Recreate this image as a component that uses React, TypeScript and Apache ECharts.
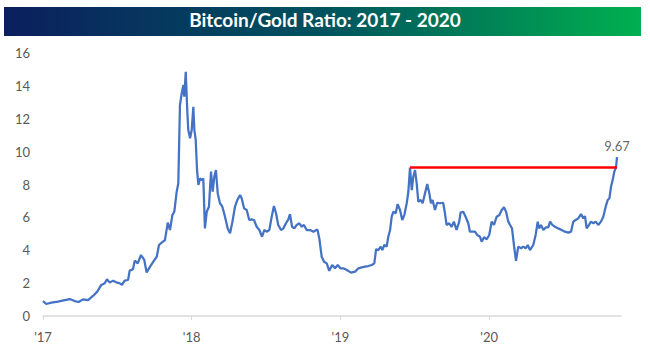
import React, { useEffect, useRef } from "react";
import * as echarts from "echarts";

const title = "Bitcoin/Gold Ratio: 2017 - 2020";
const yearTicks = [2017, 2018, 2019, 2020];
const xMin = 2017;
const xMax = 2020.887;

// decimal year of each reading
const dates = [
  2017.0, 2017.022, 2017.056, 2017.101, 2017.146, 2017.18, 2017.213, 2017.24, 2017.269, 2017.303,
  2017.336, 2017.365, 2017.392, 2017.415, 2017.43, 2017.449, 2017.471, 2017.493, 2017.516, 2017.531,
  2017.549, 2017.572, 2017.583, 2017.605, 2017.617, 2017.637, 2017.659, 2017.681, 2017.697, 2017.72,
  2017.742, 2017.765, 2017.78, 2017.798, 2017.82, 2017.839, 2017.854, 2017.87, 2017.883, 2017.899,
  2017.91, 2017.921, 2017.933, 2017.944, 2017.95, 2017.96, 2017.97, 2017.977, 2017.989, 2018.0,
  2018.011, 2018.018, 2018.027, 2018.036, 2018.045, 2018.056, 2018.068, 2018.078, 2018.089, 2018.101,
  2018.116, 2018.13, 2018.141, 2018.152, 2018.163, 2018.175, 2018.19, 2018.206, 2018.224, 2018.242,
  2018.258, 2018.274, 2018.291, 2018.307, 2018.325, 2018.336, 2018.352, 2018.37, 2018.387, 2018.404,
  2018.419, 2018.437, 2018.455, 2018.473, 2018.488, 2018.504, 2018.522, 2018.538, 2018.553, 2018.567,
  2018.582, 2018.601, 2018.616, 2018.634, 2018.65, 2018.661, 2018.675, 2018.69, 2018.706, 2018.724,
  2018.74, 2018.755, 2018.773, 2018.796, 2018.818, 2018.845, 2018.858, 2018.874, 2018.89, 2018.908,
  2018.925, 2018.945, 2018.964, 2018.982, 2019.0, 2019.02, 2019.043, 2019.072, 2019.099, 2019.121,
  2019.144, 2019.166, 2019.188, 2019.211, 2019.228, 2019.24, 2019.255, 2019.271, 2019.282, 2019.295,
  2019.311, 2019.322, 2019.334, 2019.345, 2019.356, 2019.372, 2019.385, 2019.401, 2019.416, 2019.43,
  2019.446, 2019.457, 2019.468, 2019.48, 2019.49, 2019.502, 2019.513, 2019.524, 2019.54, 2019.553,
  2019.569, 2019.584, 2019.598, 2019.609, 2019.62, 2019.636, 2019.651, 2019.669, 2019.691, 2019.703,
  2019.714, 2019.731, 2019.748, 2019.763, 2019.781, 2019.799, 2019.808, 2019.826, 2019.842, 2019.86,
  2019.871, 2019.889, 2019.905, 2019.92, 2019.939, 2019.95, 2019.966, 2019.984, 2020.001, 2020.017,
  2020.033, 2020.051, 2020.069, 2020.085, 2020.1, 2020.114, 2020.129, 2020.141, 2020.154, 2020.167,
  2020.181, 2020.196, 2020.215, 2020.23, 2020.246, 2020.26, 2020.275, 2020.297, 2020.313, 2020.327,
  2020.336, 2020.349, 2020.365, 2020.381, 2020.398, 2020.41, 2020.425, 2020.443, 2020.465, 2020.488,
  2020.51, 2020.533, 2020.551, 2020.566, 2020.582, 2020.6, 2020.618, 2020.634, 2020.645, 2020.656,
  2020.672, 2020.685, 2020.701, 2020.717, 2020.734, 2020.752, 2020.768, 2020.784, 2020.798, 2020.809,
  2020.82, 2020.831, 2020.842, 2020.854, 2020.86,
];

const ratio = [
  0.9, 0.73, 0.81, 0.87, 0.97, 1.03, 0.91, 0.85, 1.01, 0.97,
  1.22, 1.48, 1.89, 1.99, 2.23, 2.03, 2.15, 2.05, 1.99, 1.89,
  2.15, 2.19, 2.76, 2.84, 3.37, 3.2, 3.71, 3.41, 2.65, 3.0,
  3.31, 3.61, 4.32, 4.46, 4.62, 5.68, 5.23, 6.14, 6.34, 7.56,
  8.07, 12.83, 13.55, 14.05, 13.34, 14.86, 12.53, 11.31, 10.81, 11.31,
  12.73, 11.31, 10.71, 8.88, 7.97, 8.37, 8.27, 8.37, 5.33, 6.34,
  6.65, 8.78, 7.56, 8.47, 8.88, 7.46, 6.86, 6.65, 6.04, 5.33,
  5.03, 5.74, 6.65, 7.06, 7.36, 7.16, 6.55, 6.45, 5.84, 5.88,
  5.84, 5.43, 5.23, 4.82, 5.23, 5.13, 5.23, 6.04, 6.69, 6.25,
  5.54, 5.23, 5.33, 5.64, 5.88, 6.2, 5.43, 5.33, 5.54, 5.64,
  5.43, 5.54, 5.23, 5.23, 5.13, 5.27, 4.73, 3.61, 3.3, 3.2,
  2.75, 3.1, 2.9, 3.1, 2.9, 2.9, 2.8, 2.64, 2.7, 2.9,
  2.96, 3.0, 3.04, 3.1, 3.2, 4.06, 4.01, 4.22, 4.01, 4.32,
  4.22, 4.82, 5.23, 6.04, 6.34, 6.25, 6.81, 6.45, 5.84, 6.14,
  6.86, 7.56, 9.03, 7.66, 8.47, 8.88, 8.07, 6.95, 7.06, 6.86,
  7.46, 8.03, 7.46, 6.86, 7.06, 6.45, 6.89, 6.86, 6.89, 6.25,
  5.54, 5.64, 5.43, 5.74, 5.23, 5.74, 6.29, 6.34, 6.04, 5.64,
  5.13, 5.13, 5.13, 4.93, 4.82, 4.52, 4.79, 4.67, 4.93, 5.74,
  5.54, 6.04, 6.14, 6.45, 6.61, 6.34, 5.74, 5.54, 5.33, 4.32,
  3.35, 4.22, 4.12, 4.22, 4.12, 4.32, 4.01, 4.32, 4.93, 5.74,
  5.33, 5.54, 5.23, 5.39, 5.39, 5.74, 5.54, 5.43, 5.33, 5.23,
  5.13, 5.07, 5.13, 5.74, 5.84, 5.94, 6.2, 5.94, 6.08, 5.33,
  5.54, 5.74, 5.64, 5.74, 5.54, 5.74, 6.04, 6.65, 7.06, 7.16,
  7.86, 8.27, 8.78, 9.08, 9.67,
];

// prior (mid-2019) high carried forward to the latest reading
const priorHighDates = [2019.468, 2020.86];
const priorHighValues = [9.03, 9.03];

export default function App() {
  const ref = useRef<HTMLDivElement>(null);

  useEffect(() => {
    if (!ref.current) return;
    const chart = echarts.init(ref.current, null, { renderer: "svg" });
    const last = dates.length - 1;
    chart.setOption({
      animation: false,
      backgroundColor: "#ffffff",
      graphic: [
        {
          type: "rect",
          left: 4,
          top: 7,
          shape: { width: 637, height: 29 },
          style: {
            fill: new echarts.graphic.LinearGradient(0, 0, 1, 0, [
              { offset: 0, color: "#0b1f5e" },
              { offset: 0.5, color: "#00525e" },
              { offset: 1, color: "#00b04f" },
            ]),
          },
          z: 0,
        },
        {
          type: "text",
          left: "center",
          top: 10,
          style: {
            text: title,
            fill: "#ffffff",
            font: "bold 19px Lato",
          },
          z: 1,
        },
      ],
      grid: { left: 43, right: 29, top: 53, bottom: 43, containLabel: false },
      xAxis: {
        type: "value",
        min: xMin,
        max: xMax,
        interval: 1,
        splitLine: { show: false },
        axisLine: { show: true, lineStyle: { color: "#d9d9d9", width: 1.5 } },
        axisTick: {
          show: true,
          customValues: yearTicks,
          length: 4,
          lineStyle: { color: "#d9d9d9" },
        },
        axisLabel: {
          customValues: yearTicks,
          formatter: (v: number) => "'" + String(Math.round(v) % 100),
          color: "#595959",
          fontSize: 13,
          fontFamily: "Lato",
          margin: 14,
        },
      },
      yAxis: {
        type: "value",
        min: 0,
        max: 16,
        interval: 2,
        splitLine: { show: false },
        axisLine: { show: false },
        axisTick: { show: false },
        axisLabel: {
          color: "#595959",
          fontSize: 13,
          fontFamily: "Lato",
          margin: 13,
        },
      },
      series: [
        {
          type: "line",
          data: dates.map((d, i) => [d, ratio[i]]),
          showSymbol: false,
          symbol: "none",
          lineStyle: { color: "#4472c4", width: 2.25 },
          z: 2,
        },
        {
          type: "line",
          data: priorHighDates.map((d, i) => [d, priorHighValues[i]]),
          showSymbol: false,
          symbol: "none",
          lineStyle: { color: "#ff0000", width: 2.5 },
          z: 3,
        },
        {
          type: "scatter",
          data: [[dates[last], ratio[last]]],
          symbolSize: 1,
          itemStyle: { color: "rgba(0,0,0,0)" },
          label: {
            show: true,
            position: "top",
            formatter: ratio[last].toFixed(2),
            color: "#404040",
            fontSize: 13,
            fontFamily: "Lato",
            distance: 4,
          },
          silent: true,
          z: 4,
        },
      ],
    });
    return () => chart.dispose();
  }, []);

  return (
    <div
      ref={ref}
      style={{ position: "fixed", left: 0, top: 0, width: 650, height: 359 }}
    />
  );
}
